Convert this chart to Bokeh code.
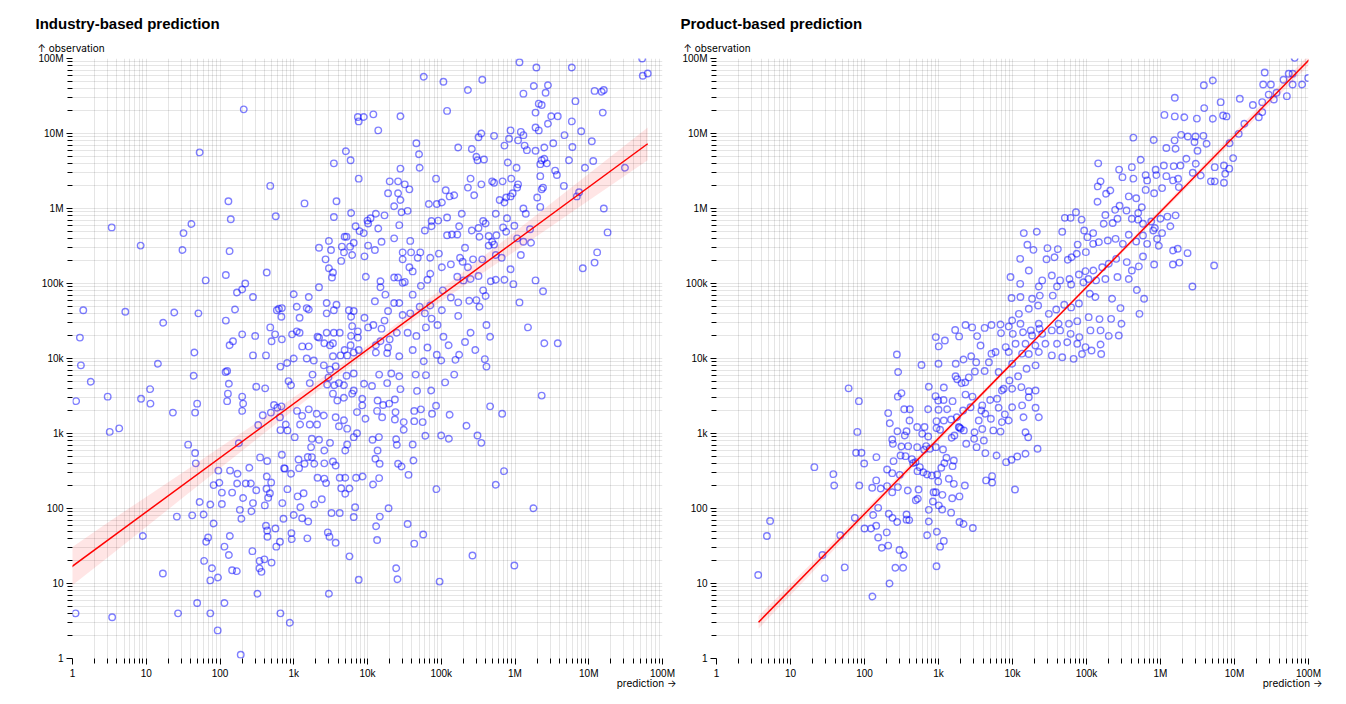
from bokeh.plotting import figure
from bokeh.layouts import row
from bokeh.models import Title, FixedTicker, CustomJSTickFormatter
from bokeh.embed import file_html
from bokeh.resources import INLINE

FONT = "Liberation Sans"
ARROW_FONT = "Inter"

# ---------------- axis ticks ----------------
tick_values = [1, 10, 100, 1e3, 1e4, 1e5, 1e6, 1e7, 1e8]
tick_labels = ["1", "10", "100", "1k", "10k", "100k", "1M", "10M", "100M"]
minor_values = [m * v for v in tick_values[:-1] for m in range(2, 10)]

# ---------------- Industry-based prediction ----------------
ind_pred = [
    210, 53, 7.4e3, 8.9e3, 7.6e3, 5.1e3, 5.9e3, 3.5e3, 7.6e3, 480,
    130, 1.4e3, 3.8e3, 570, 140, 3.5e3, 6e3, 3.4, 41, 32,
    8.4, 31, 135, 6.9e3, 7.8e3, 8.9e3, 1e4, 1.02e4, 3e3, 4.9e3,
    5.2e3, 6.5e3, 4.5e3, 5.8e3, 2.2e3, 3.2e3, 4.8e3, 6.2e3, 9.1e3, 2.7e3,
    4.4e3, 3e3, 3.4e3, 3.3e3, 9.5e3, 2.2e3, 1.02e4, 64, 120, 430,
    220, 200, 170, 280, 1e3, 1.6e3, 1.1e3, 1.5e3, 1.2e3, 1.6e3,
    590, 630, 690, 680, 1.4, 5.2, 24, 51, 17, 1.26,
    160, 120, 200, 300, 150, 135, 45, 280, 420, 480,
    560, 500, 690, 950, 1.1e3, 1.2e3, 1.3e3, 1.6e3, 1e3, 1.5e3,
    2.1e3, 2.2e3, 2.8e3, 3.5e3, 4.2e3, 2.6e3, 3.1e3, 3.4e3, 3.4e3, 5.6e3,
    6.5e3, 6e3, 6.2e3, 7.4e3, 6e3, 7.4e3, 9.1e3, 1.02e4, 2.8e3, 3.8e3,
    3.5e3, 2.8e3, 5.9e3, 4.9e3, 5.3e3, 4.3e3, 6.5e3, 7.6e3, 0.49, 0.875,
    1.15e6, 1.95e6, 5.9e6, 5.3e7, 5.4e7, 6.3e7, 5.8e4, 1.07e5, 3.6e5, 2.3e5,
    1.3e6, 1.8e6, 2.8e6, 2.6e6, 1.2e7, 1.5e7, 1.6e7, 6.6e6, 2.1e6, 2.3e6,
    1.55e7, 1.2e5, 1.9e6, 3.1e6, 3.8e6, 5.9e6, 2.8e6, 2.8e4, 1.2e4, 1.4e4,
    3.2e5, 3.5e5, 5.2e5, 8.3e5, 8.7e5, 1.2e6, 1.3e6, 1.1e6, 1.9e6, 2.1e6,
    4.7e6, 7.9e6, 1.1e7, 3.3e6, 2.5e6, 6e6, 7.2e5, 1.35e6, 1.45e6, 1.9e6,
    1.7e5, 2.6e5, 4.6e4, 5e4, 3e5, 3.1e5, 3.8e5, 5.1e4, 2.8e4, 8e5,
    1.05e6, 2.3e6, 2.2e6, 2.5e6, 2.7e6, 5.4e6, 1.15e7, 8.9e6, 2.2e6, 3.5e6,
    3.7e6, 2.4e6, 2.3e6, 2.2e6, 2e6, 4.6e6, 6.9e6, 7.4e6, 3.1e7, 1.6e7,
    1.8e7, 1.3e7, 1.2e7, 8.3e6, 1.9e6, 2.4e6, 1.15e6, 1.5e6, 2.5e6, 3.8e6,
    8.5e4, 2.5e5, 4.9e5, 5.2e5, 6.8e5, 8.9e5, 1.1e6, 1.07e6, 3.5e5, 2.3e5,
    2.8e5, 2e4, 2.6e4, 3.2e4, 3.7e4, 1.9e4, 2.6e4, 2.8e4, 2.3e4, 2.9e4,
    3.5e4, 2.7e4, 1.1e4, 1.3e4, 1.7e4, 1.4e4, 1.55e4, 2.3e4, 1.26e4, 1.15e5,
    1.3e5, 1.5e5, 1.02e5, 8.7e4, 6.8e4, 1.2e5, 1.9e5, 7.4e4, 9.1e4, 6e4,
    7.4e4, 1.2e5, 1.4e5, 1.65e5, 1.75e5, 2.6e5, 3.2e5, 3.7e5, 4e5, 3.3e5,
    4.4e5, 4.9e5, 4.4e5, 5.2e5, 5.6e5, 6.2e5, 7.2e5, 7.6e5, 8.7e5, 9.3e5,
    1.3e6, 1.4e6, 5.5e5, 7.8e5, 6.9e5, 7.6e5, 9.8e5, 1.07e6, 1.3e6, 1.65e6,
    1.2e6, 1.6e6, 6.6e5, 5.5e5, 3.6e5, 2.7e5, 2.1e5, 1.8e5, 1.95e5, 9.3e4,
    7.1e4, 5.2e4, 4.8e4, 3.9e4, 3.8e4, 3e4, 3e4, 3.7e4, 4.1e4, 2.3e4,
    2.6e4, 3e4, 3.2e4, 1.5e4, 1.5e4, 1.26e4, 1.75e4, 2.3e4, 2.7e4, 4.1e4,
    5.3e4, 6.5e4, 7.1e4, 1.02e5, 1.35e5, 1.65e5, 2e5, 2.5e5, 2.3e5, 3.2e5,
    4.7e5, 3.7e5, 5.5e5, 7.2e5, 9.5e5, 8.7e5, 3e5, 2.4e5, 4e5, 3.3e5,
    1.05e5, 1.35e5, 1.7e5, 1.7e5, 1.02e5, 7.1e4, 6e4, 5.1e4, 3.8e4, 3e4,
    1.9e4, 1.7e4, 1.2e4, 1.55e4, 2e4, 2.5e4, 3.5e4, 4.6e4, 6.2e4, 7.4e4,
    8.9e4, 1.07e5, 6.5e4, 4.1e4, 2.7e4, 8.7e4, 1.26e5, 1.75e5, 2.1e5, 2.5e5,
    2.9e5, 4.1e5, 4.6e5, 3.9e5, 1.3e4, 1.5e4, 1.9e4,
    1.3, 1.77, 1.12, 3, 3.2, 4.3, 14.4, 8.5, 11.3, 11.4,
    23, 44, 49, 46, 119, 125, 132, 128, 125, 200,
    206, 200, 310, 410, 380, 330, 490, 600, 650, 540,
    37, 46, 47, 180, 95, 137, 173, 250, 82, 98,
    146, 106, 171, 224, 262, 310, 206, 53, 74, 106,
    26, 42, 60, 82, 186, 267, 280, 195, 136, 69,
    65, 115, 132, 275, 61, 78, 146, 169, 74, 94,
    345, 343, 400, 500, 365, 9, 16.8, 1.1, 3.45, 27,
    49, 74, 115, 93, 191, 322, 660, 885, 3e3, 7.6e3,
    5.7e3, 3.05e3, 3.7e3, 6.8e3, 6.5e3, 3.25e3, 4.2e3, 2.9e3, 1.53e3, 930,
    650, 580, 940, 436, 440, 420, 565, 725, 1e3, 1.3e3,
    1.57e3, 700, 1.23e3, 1.9e3, 2.4e3, 2.75e3, 2.6e3, 2.1e3, 1.36e3, 1.13e3,
    820, 920, 740, 494, 475, 450, 405, 427, 431, 350,
    436, 690, 757, 1.16e3, 1.18e3, 1.4e3, 1.55e3, 1.9e3, 2.6e3, 3.4e3,
    3.7e3, 4.2e3, 5e3, 7e3, 8.6e3, 5.7e3, 5e3, 4.4e3, 7.2e3, 5e3,
    5.3e3, 6.5e3, 3.1e3, 2.6e3, 1.76e3, 1.76e3, 2.2e3, 1.72e3, 2.07e3, 2.05e3,
    1.65e3, 1.3e3, 1.22e3, 1.03e3, 822, 660, 781, 682, 1.11e3, 1.6e3,
    2.56e3, 3.4e3, 3.9e3, 4.8e3, 6.2e3, 7.2e3, 8.5e3, 9e3, 6.5e3, 5.2e3,
    3.7e3, 3.1e3, 2.56e3, 1.87e3, 815, 660, 850, 920, 1.65e3, 1.8e3,
    2.96e3, 2.84e3, 3.56e3, 4.1e3, 4.8e3, 6.5e3, 8.5e3, 9.4e3, 4.8e3, 3.7e3,
    4.1e3, 5.3e3,
    1.3e4, 1.85e4, 5.8e4, 1e5, 1.56e5, 4.1e5, 1.44e4, 2.1e4, 2.7e4, 4.5e4,
    6.2e4, 1.5e5, 1.13e5, 1.85e4, 2.8e4, 4.7e4, 7.3e4, 1.15e4, 1.37e4, 1.97e4,
    2.35e4, 1.63e4, 1.35e4, 1.58e4, 2.4e4, 2.35e4, 4.3e4, 5.3e4, 7.5e4, 8.5e4,
    1.3e5, 3.1e4, 4.3e4, 5.6e4, 3.1e4, 6.1e4, 1e5, 1.27e5, 2.2e5, 3.1e5,
    3.5e5, 4.6e5, 6.7e5, 2.3e6, 1.17e4, 1.43e4, 2.45e4, 2.5e4, 4.1e4, 1.37e4,
    1.28e4, 1.46e4, 2.6e4, 2.9e4, 4.2e4, 3.6e4, 1.19e4, 1.44e4, 8.6e4, 7.1e5,
    5.5e5, 1.78e6, 1.93e4, 1.47e4, 1.31e4, 1.35e4, 3.5e4, 5.7e4, 4.3e4, 2.65e5,
    9.8e5, 2.45e4, 2.55e4, 9.5e4,
]
ind_obs = [
    2.1e7, 5.6e6, 1.66e7, 1.66e7, 1.45e7, 5.8e6, 4.4e6, 4e6, 2.5e6, 2e6,
    1.25e6, 1.17e6, 1.25e6, 7.9e5, 7.2e5, 7.7e5, 8.7e5, 5.6e5, 6.2e5, 4.7e5,
    3.2e5, 2.8e5, 2.7e5, 5.8e5, 5e5, 4.7e5, 6.9e5, 6.3e5, 3.7e5, 4.2e5,
    4.2e5, 3.5e5, 3.1e5, 3.1e5, 3e5, 2.8e5, 2.6e5, 2.4e5, 2.3e5, 2.1e5,
    2e5, 1.6e5, 1.4e5, 1.2e5, 1.23e5, 8.9e4, 3.2e5, 1.1e5, 1.3e5, 1.4e5,
    1e5, 8.3e4, 7.6e4, 6.6e4, 7.2e4, 6.6e4, 4.9e4, 4.7e4, 3.5e4, 4.5e4,
    4.4e4, 4.6e4, 4.7e4, 3.6e4, 4.4e4, 4.2e4, 4.1e4, 4e4, 3e4, 1.9e4,
    4.5e4, 3.2e4, 2.1e4, 2e4, 1.7e4, 1.5e4, 1.2e4, 1.1e4, 1.1e4, 2.6e4,
    2.1e4, 1.7e4, 1.8e4, 2.1e4, 2.3e4, 2.2e4, 1.45e4, 1.45e4, 1e4, 1e4,
    1.95e4, 1.9e4, 2.2e4, 2.2e4, 2.2e4, 1.6e4, 1.5e4, 1.6e4, 1.07e4, 4.4e4,
    4.3e4, 3.6e4, 2.7e4, 2.3e4, 2e4, 1.9e4, 3.5e4, 2.6e4, 5.5e4, 5.2e4,
    4.4e4, 4e4, 1.5e4, 1.3e4, 1.1e4, 1.1e4, 1.2e4, 1.3e4, 1.19e4, 3.2e3,
    8.9e7, 7.6e7, 7.6e7, 1e8, 5.9e7, 6.3e7, 5.7e7, 4.9e7, 5.2e7, 3.8e7,
    3.4e7, 4.3e7, 4.4e7, 3.5e7, 3.7e7, 3.6e7, 3.8e7, 2.7e7, 2.5e7, 2.4e7,
    1.9e7, 2e7, 1.9e7, 1.7e7, 1.7e7, 1.45e7, 1.35e7, 1.7e7, 1.8e7, 1.1e7,
    8.9e6, 1e7, 9.3e6, 8.5e6, 1.1e7, 1.05e7, 9.5e6, 8.1e6, 1.2e7, 1.1e7,
    9.5e6, 1.07e7, 7.9e6, 7.4e6, 6.5e6, 6.6e6, 6.9e6, 6.9e6, 6e6, 5.9e6,
    6.5e6, 6.2e6, 7.4e6, 5.3e6, 4.9e6, 4.4e6, 4.5e6, 3.5e6, 3.4e6, 4.1e6,
    3.5e6, 4.4e6, 3.9e6, 4.6e6, 4e6, 4.4e6, 4.3e6, 3.5e6, 2.7e6, 3.2e6,
    2.8e6, 1.9e6, 1.8e6, 1.05e6, 1.4e6, 2e6, 1.45e6, 1.65e6, 3.5e6, 1e6,
    4.8e5, 2.6e5, 1.9e5, 1.6e5, 1.1e5, 7.9e4, 5.6e4, 2.6e4, 1.6e4, 1.6e4,
    2.5e6, 2.5e6, 2.3e6, 2.2e6, 2.3e6, 2.5e6, 2.1e6, 1.9e6, 2.1e6, 1.9e6,
    1.5e6, 2.3e6, 2.3e6, 2.1e6, 1.8e6, 1.6e6, 1.6e6, 1.3e6, 1.07e6, 8.9e5,
    9.3e5, 6e5, 7.4e5, 8.5e5, 8.1e5, 5.4e5, 3.6e5, 4e5, 2.8e5, 1.75e6,
    1.45e6, 1.5e6, 1.2e6, 1.15e6, 1.15e6, 7.6e5, 8.5e5, 6.8e5, 6.9e5, 5.1e5,
    5.8e5, 4.4e5, 4.5e5, 4.5e5, 5.8e5, 5.1e5, 5.5e5, 6.8e5, 6.3e5, 4.2e5,
    4.3e5, 3.6e5, 3.2e5, 3.3e5, 4.4e5, 1.3e6, 1.2e6, 1.4e6, 1.45e6, 1.6e6,
    1e6, 8.5e5, 8.5e5, 7.4e5, 5.6e5, 4.9e5, 5.9e5, 4e5, 3.6e5, 3.5e5,
    2.4e5, 5.3e5, 2.2e5, 2.4e5, 2.1e5, 2.1e5, 3e5, 2.2e5, 1.95e5, 2.5e5,
    2.2e5, 2.6e5, 2.2e5, 2.6e5, 3.7e5, 2.6e5, 2.1e5, 1.65e5, 1.45e5, 1.2e5,
    1.2e5, 1.02e5, 1.05e5, 1.07e5, 8.9e4, 5.8e4, 7.1e4, 5.5e4, 5.5e4, 7.1e4,
    9.3e4, 1.12e5, 1.35e5, 1.65e5, 1.8e5, 1.23e5, 1.1e5, 1.15e5, 1.65e5, 1.26e5,
    1.07e5, 8.1e4, 1.12e5, 1.12e5, 9.8e4, 1.55e5, 6e4, 5.9e4, 6.8e4, 4.9e4,
    8.1e4, 6.5e4, 5.6e4, 3.7e4, 4.4e4, 5.1e4, 4e4, 4.9e4, 4e4, 3.8e4,
    4.3e4, 3.2e4, 2.8e4, 2.5e4, 1.8e4, 2.2e4, 2.2e4, 2e4, 2.6e4, 3.4e4,
    2.8e4, 1.95e4, 1.4e4, 1.3e4, 1.07e4, 1.12e4, 1.5e4, 1.12e4, 1.66e4, 2.2e4,
    1.3e4, 2.8e4, 1.95e4, 9.8e3, 1.5e4, 1.7e4, 1.4e4,
    8.1e3, 4.9e3, 2.7e3, 3.1e3, 1.05e3, 1.17e3, 8.5e3, 2.9e3, 3.9e3, 2.5e3,
    1.9e3, 5.9e3, 2.5e3, 1.9e3, 6.6e3, 6.8e3, 4.6e3, 3.4e3, 2.7e3, 3.1e3,
    2.5e3, 2e3, 4.2e3, 4e3, 1.75e3, 1.3e3, 1.9e3, 2.2e3, 1.65e3, 2.4e3,
    710, 550, 400, 740, 320, 320, 290, 350, 205, 220,
    163, 163, 215, 215, 215, 175, 138, 122, 113, 115,
    78, 81, 83, 63, 96, 92, 118, 73, 43, 41,
    36, 31, 24, 27, 20, 16, 15, 14.6, 11, 12,
    20, 16, 21, 19, 14.3, 43, 13.6, 4, 3.55, 4,
    5.5, 4, 5.5, 2.37, 1.12, 7.3, 4, 3, 7.3, 11.2,
    23, 42, 35, 104, 77, 87, 87, 48, 40, 47,
    36, 31, 39, 51, 42, 59, 54, 73, 82, 74,
    67, 118, 104, 113, 133, 218, 250, 257, 160, 145,
    181, 290, 345, 222, 160, 139, 110, 183, 267, 480,
    430, 520, 340, 450, 345, 395, 485, 395, 400, 424,
    375, 257, 257, 257, 267, 185, 157, 186, 1.01e3, 594,
    714, 894, 750, 594, 484, 850, 824, 658, 1.32e3, 1.83e3,
    1.32e3, 1.72e3, 1.32e3, 894, 1.1e3, 1.11e3, 1.32e3, 2.3e3, 2e3, 2.1e3,
    1.74e3, 3.4e3, 2.75e3, 3e3, 3.4e3, 1.93e3, 2.9e3, 4.6e3, 6.3e3, 5.9e3,
    7.9e3, 7.1e3, 8.1e3, 9.4e3, 8.7e3, 7.8e3, 5e3, 4.4e3, 4.7e3, 6.1e3,
    5.6e3, 4.5e3, 4.4e3, 4.7e3, 4.4e3, 3.75e3, 2.37e3, 1.57e3, 1.5e3, 1.65e3,
    1.25e3, 1.16e3,
    1.2e4, 1.18e4, 9.2e3, 9.4e3, 9.6e3, 7.8e3, 6.1e3, 6.3e3, 5.8e3, 6.1e3,
    6e3, 6.1e3, 4.8e3, 4.7e3, 3.9e3, 3.7e3, 3.75e3, 4.3e3, 2.75e3, 2.5e3,
    2.84e3, 2.4e3, 2e3, 1.65e3, 1.93e3, 1.54e3, 2e3, 2.1e3, 1.83e3, 2.34e3,
    1.78e3, 1.42e3, 1.46e3, 1.42e3, 1.12e3, 933, 942, 850, 1.27e3, 940,
    750, 2.3e3, 1.83e3, 3.2e3, 825, 894, 840, 706, 714, 594,
    460, 395, 395, 363, 437, 281, 209, 254, 181, 315,
    207, 101, 101, 78, 58, 38, 62, 45, 34, 23.6,
    17.4, 16, 11.4, 10.6,
]
ind_fit_pred = [0.49, 6.3e7]
ind_fit_obs = [10.2, 7.3e6]
ind_band_pred = [0.49, 3.16, 31.6, 316, 3160, 1.58e4, 1e5, 1e6, 1e7, 6.3e7]
ind_band_lo = [5.5, 23, 140, 845, 5e3, 1.64e4, 5.8e4, 2.7e5, 1.28e6, 4.4e6]
ind_band_hi = [19, 67, 305, 1.4e3, 6.6e3, 2.06e4, 8.4e4, 4.9e5, 2.9e6, 1.2e7]

# ---------------- Product-based prediction ----------------
prod_pred = [
    3.66, 4.8, 5.3, 21, 29, 27, 38, 39, 54, 47,
    61, 84, 80, 77, 91, 99, 85, 74, 100, 123,
    144, 131, 153, 127, 144, 145, 153, 172, 200, 209,
    128, 218, 262, 333, 297, 340, 213, 239, 277, 370,
    402, 370, 940, 703, 951, 1.18e3, 1.05e3, 741, 526, 494,
    741, 1.01e3, 1.12e3, 1.48e3, 1.92e3, 2.18e3, 2.91e3, 857, 920, 1.13e3,
    1.53e3, 1.92e3, 840, 2.27e3, 1.61e3, 1.38e3, 991, 4.4e3, 5.3e3, 5.3e3,
    1.08e4, 385, 537, 237, 202, 166, 283, 300, 237, 202,
    247, 307, 358, 437, 455, 316, 389, 515, 641, 682,
    764, 920, 1.15e3, 1.28e3, 1.61e3, 1.2e3, 1.55e3, 1.09e3, 959, 813,
    703, 621, 520, 560, 489, 209, 220, 344, 410, 725,
    1e3, 1.31e3, 406, 515, 647, 940, 1.18e3, 1.48e3, 1.77e3, 279,
    237, 242, 351, 370, 603, 726, 940, 1.05e3, 1.51e3, 1.64e3,
    2e3, 1.92e3, 274, 285, 589, 1e3, 920, 1.01e3, 1.22e3, 741,
    282, 316, 912, 991, 1.17e3, 1.55e3, 1.18e3, 2.05e3, 1.71e3, 2.18e3,
    1.68e3, 1.9e3, 2.32e3, 2.85e3, 3.33e3, 3.7e3, 4.2e3, 5.2e3, 6.9e3, 8.9e3,
    2.77e3, 3.23e3, 4.8e3, 5.2e3, 5.9e3, 7e3, 8.1e3, 6.5e3, 4.2e3, 3.1e3,
    2.57e3, 2.3e3, 1.7e3, 1.79e3, 2.32e3, 2.88e3, 2.71e3, 2.15e3, 3.8e3, 4.3e3,
    5.1e3, 3.5e3, 3.9e3, 3.07e3, 2.2e3, 1.88e3, 2.37e3, 3.03e3, 3.27e3, 4.3e3,
    6.1e3, 4.1e3, 5.5e3, 6.9e3, 7.2e3, 8.9e3, 7.9e3, 6.5e3, 9.9e3, 7.2e3,
    9.9e3, 1.32e4, 1.66e4, 2.05e4, 1.66e4, 1.35e4, 1.41e4, 2.05e4, 2.27e4, 1.5e4,
    1.63e4, 2.18e4, 1.5e4, 1.16e4, 9.7e3, 8.2e3, 1.55e4, 2.05e4, 1.35e4,
    1.77e4, 2.32e4, 9.9e3, 1.19e4, 9.1e3, 7.6e3, 6.2e3, 5e3, 3.9e3,
    6.5e7, 2.56e7, 5.4e7, 6.1e7, 4.6e7, 9.9e7, 2.44e7, 3.1e7, 6.1e7, 8.2e7,
    5.1e7, 3.7e7, 2.9e7, 3.4e7, 2.37e7, 1.77e7, 1.18e7, 2.37e7, 2.13e7, 1.36e7,
    1.14e7, 8.6e6, 9.6e6, 3.85e6, 5.1e6, 6.5e6, 1.56e6, 3.9e6, 1.13e6, 1.56e6,
    2.1e6, 3.1e6, 5.1e6, 7e6, 7.8e6, 4.3e5, 8.1e5, 1.2e6, 1.6e6, 1.55e6,
    1.9e6, 2.34e6, 2.97e6, 3.8e6, 4.2e6, 2.88e6, 3.16e6, 2.24e6, 3e6, 3.5e6,
    4.8e6, 5.4e6, 7.2e6, 7.5e6, 5.4e6, 7.2e6, 8.5e6, 2.73e6, 1.86e6, 1.51e6,
    1.11e6, 8.6e5, 6.3e5, 4.3e5, 5.4e5, 4.1e5, 2.76e5, 3.06e5, 1.44e5, 1.55e5,
    1.42e5, 1.84e5, 2.1e5, 1.41e5, 6.6e5, 8.8e5, 1.2e6, 1.48e6, 1.73e6, 1.77e6,
    1.05e6, 8.2e5, 6.3e5, 4.7e5, 3.73e5, 5.6e5, 5e5, 4.1e5, 2.8e5, 2.44e5,
    3.47e5, 5.8e5, 7.5e5, 8.4e5, 1e6, 1.24e6, 1.6e6, 1.36e6, 1.05e6, 8e5,
    5e5, 2.62e5, 2.26e5, 1.71e5, 1.8e5, 1.23e5, 7.2e4, 6.1e4, 5.1e4, 8.6e4,
    9.3e4, 1.03e5, 7.6e4, 4.7e4, 2.13e4, 1.42e4, 1.27e4, 1.59e4, 1.92e4, 2.97e4,
    4.1e4, 3.7e4, 2.88e4, 5.6e4, 6.3e4, 7.4e4, 9.8e4, 1.23e5, 1.47e5, 1.94e5,
    2.47e5, 3.1e5, 3.73e5, 4.7e5, 5.8e5, 6.6e5, 9e5, 9.5e5, 1.48e6, 1.71e6,
    2.32e6, 5.3e6, 2.7e6, 1.47e6, 1.8e6, 8.2e5, 5.8e5, 5.1e5, 4.1e5, 3.5e5,
    2.52e5, 2e5, 1.63e5, 1.24e5, 9.7e4, 7.9e4, 5.9e4, 4.4e4, 3.4e4, 2.52e4,
    2.27e4, 1.66e4, 1.27e4, 9.4e3, 9.7e3, 1.28e4, 1.84e4, 2.34e4, 3.5e4, 4e4,
    6.2e4, 9.1e4, 1.06e5, 1.35e5, 1.8e5, 2.62e5, 3.73e5, 4.8e5, 6e5, 5.2e5,
    2.88e5, 2.22e5, 1.32e5, 1.11e5, 7.9e4, 6.2e4, 5e4, 3.9e4, 3.1e4, 2.22e4,
    1.66e4, 1.22e4, 9.9e3, 1.28e4, 2.27e4, 4.2e4, 5.8e4, 7.5e4, 1.07e5, 1.5e5,
    2.15e5, 2.97e5, 2.73e5, 2e5, 1.55e5, 1.13e5, 8e4, 6.1e4, 4.4e4, 3.4e4,
    2.52e4, 1.84e4, 1.39e4, 1.01e4, 1.1e4, 1.5e4, 2.04e4, 2.79e4, 4e4, 5.5e4,
    7.5e4, 9.7e4, 1.55e5, 1.17e5, 1.58e5, 8.7e4, 6.7e4, 4.7e4, 3.4e4, 2.27e4,
    1.66e4, 8.9e3,
]
prod_obs = [
    13, 43, 68, 356, 11.8, 24, 287, 203, 16.4, 44,
    4e3, 2.7e3, 1.05e3, 553, 553, 398, 203, 75, 54, 54,
    59, 82, 102, 189, 237, 484, 41, 30, 48, 32,
    6.7, 10, 16.2, 16.2, 28, 24, 85, 75, 66, 71,
    70, 83, 17, 44, 49, 37, 31, 67, 135, 129,
    96, 110, 97, 88, 66, 62, 55, 165, 165, 152,
    137, 145, 124, 203, 213, 249, 229, 237, 270, 222,
    179, 174, 179, 165, 199, 185, 193, 281, 296, 331,
    428, 509, 499, 455, 403, 671, 678, 658, 607, 678,
    625, 658, 612, 474, 437, 403, 367, 349, 284, 275,
    284, 305, 315, 356, 415, 1.87e3, 1.37e3, 2.11e3, 2.11e3, 2.11e3,
    2.07e3, 2.11e3, 1.49e3, 1.22e3, 1.22e3, 1.46e3, 1.49e3, 1.54e3, 1.65e3, 1.07e3,
    832, 728, 942, 1.07e3, 991, 912, 1.18e3, 1.12e3, 877, 942,
    1.16e3, 1.2e3, 1.13e4, 6.6e3, 8.2e3, 8.5e3, 1.93e4, 1.45e4, 1.74e4, 4.2e3,
    3.1e3, 3.45e3, 3.15e3, 2.75e3, 2.8e3, 2.7e3, 4.1e3, 4.7e3, 8.5e3, 9.7e3,
    2.4e4, 1.97e4, 2.8e4, 2.6e4, 1.99e4, 1.49e4, 2.56e4, 2.8e4, 2.84e4, 2.67e4,
    1.07e4, 8.9e3, 8.9e3, 1.16e4, 1.22e4, 2.18e4, 1.42e4, 6.6e3, 6.8e3, 6.7e3,
    5.6e3, 4.8e3, 5.8e3, 5.3e3, 3.3e3, 3.1e3, 2.24e3, 2.03e3, 2.03e3, 1.83e3,
    1.57e3, 1.49e3, 1.15e3, 1.04e3, 1.1e3, 1.22e3, 730, 849, 658, 547,
    509, 807, 1.1e3, 1.06e3, 1.42e3, 1.49e3, 1.8e3, 2.2e3, 2.24e3, 3.75e3,
    3.95e3, 4.15e3, 3.67e3, 3.75e3, 3.05e3, 2.37e3, 1.65e3, 2.2e3, 1.65e3, 1.04e3,
    893, 625, 536, 494, 446, 415, 7.3e3, 8.1e3, 1.16e4,
    2.37e4, 2.49e4, 8.5e3, 5.8e3, 5.1e3, 3.95e3, 2.9e3, 2.8e3, 2.37e3,
    1.02e8, 6.5e7, 6.25e7, 6.25e7, 5.2e7, 5.5e7, 4.5e7, 4.5e7, 4.5e7, 4.5e7,
    3.15e7, 3.5e7, 3.3e7, 2.84e7, 2.62e7, 2.4e7, 2.9e7, 1.93e7, 1.65e7, 1.35e7,
    9.9e6, 7.4e6, 4.7e6, 4.4e7, 5.1e7, 2.62e7, 3e7, 2.18e7, 1.77e7, 1.69e7,
    1.65e7, 1.58e7, 1.57e7, 1.74e7, 1.69e7, 8.8e6, 8.2e6, 6.4e6, 6.25e6, 8.1e6,
    9.6e6, 9.1e6, 9.1e6, 9.3e6, 7.3e6, 7.7e6, 5.9e6, 4.6e6, 3.95e6, 2.75e6,
    2.3e6, 2.3e6, 2.2e6, 2.9e6, 3.56e6, 3.75e6, 3.4e6, 3e6, 3.75e6, 3.67e6,
    3.75e6, 3.28e6, 2.79e6, 2.5e6, 4.46e6, 3.56e6, 3.3e6, 2.62e6, 4e6, 2.3e6,
    1.97e6, 1.57e6, 1.74e6, 1.23e6, 2.37e6, 2.79e6, 2.7e6, 2.37e6, 2.49e6, 1.93e6,
    1.87e6, 1.6e6, 1.77e6, 1.37e6, 1.45e6, 1.04e6, 8.7e5, 7.3e5, 1.09e6, 9.6e5,
    9.4e5, 6.25e5, 6.7e5, 5.5e5, 7.3e5, 7.8e5, 8.1e5, 5.8e5, 4.7e5, 5.1e5,
    7.1e5, 7.3e5, 6.4e5, 6.25e5, 8.2e5, 4.7e5, 8.9e5, 7.5e5, 7.5e5, 7.1e5,
    5.1e5, 4.15e5, 3.3e5, 4.9e5, 4.9e5, 4.7e5, 2.13e5, 3.28e5, 2.81e5, 2.96e5,
    2.87e5, 2.24e5, 2.11e5, 2.07e5, 2.24e5, 2.49e5, 2.62e5, 3.38e5, 3.56e5, 3.75e5,
    3.94e5, 3.38e5, 4.46e5, 3.63e5, 4.37e5, 3.38e5, 3.94e5, 3.18e5, 2.76e5, 2.9e5,
    2.54e5, 1.74e5, 9.1e4, 1.79e5, 1.9e5, 1.79e5, 2.29e5, 1.69e5, 1.49e5, 1.93e5,
    2.13e5, 1.83e5, 1.65e5, 1.49e5, 1.46e5, 1.32e5, 1.15e5, 1.1e5, 1.28e5, 1.1e5,
    9.1e4, 1.49e5, 9.9e4, 1.22e5, 6.4e4, 6.6e4, 6.25e4, 6.9e4, 6.9e4, 9.1e4,
    9.7e4, 1.04e5, 1.15e5, 1.1e5, 1.15e5, 1.22e5, 1.15e5, 8.2e4, 6.25e4, 3.94e4,
    4.7e4, 6.25e4, 6.6e4, 7.3e4, 5.4e4, 4.8e4, 5.2e4, 4.5e4, 3.94e4, 5.1e4,
    4.6e4, 3.94e4, 3.21e4, 2.9e4, 2.9e4, 2.9e4, 2.9e4, 3.15e4, 3.56e4, 3.35e4,
    3.38e4, 2.9e4, 2.03e4, 2e4, 2.37e4, 2.37e4, 1.93e4, 2.13e4, 2.37e4, 2.37e4,
    2.13e4, 2.03e4, 2.24e4, 2.13e4, 1.57e4, 1.57e4, 1.49e4, 1.57e4, 1.57e4, 1.65e4,
    1.57e4, 1.42e4, 1.54e4, 1.28e4, 1.15e4, 1.15e4, 9.9e3, 1.04e4, 1.1e4, 1.22e4,
    1.15e4, 1.22e4,
]
prod_fit_pred = [3.7, 1.02e8]
prod_fit_obs = [3.05, 9.6e7]
prod_band_pred = [3.7, 100, 3.16e4, 3.16e6, 1.02e8]
prod_band_lo = [2.5, 75, 2.67e4, 2.64e6, 8.2e7]
prod_band_hi = [3.7, 95, 2.92e4, 3.18e6, 1.13e8]


def make_panel(title, pred, obs, fit_x, fit_y, band_x, band_lo, band_hi,
               width, border_left, border_right, title_off, ylab_off):
    p = figure(width=width, height=694, x_axis_type="log", y_axis_type="log",
               x_range=(1, 1e8), y_range=(1, 1e8), title=None,
               output_backend="svg", toolbar_location=None,
               min_border_left=border_left, min_border_right=border_right,
               min_border_top=58, min_border_bottom=36)
    p.outline_line_color = None
    p.background_fill_color = "white"
    p.border_fill_color = "white"

    for ax in (p.xaxis[0], p.yaxis[0]):
        ax.ticker = FixedTicker(ticks=tick_values, minor_ticks=minor_values)
        ax.formatter = CustomJSTickFormatter(
            args=dict(labels=tick_labels),
            code="return labels[Math.round(Math.log10(tick))];")
        ax.axis_line_color = None
        ax.major_tick_line_color = "black"
        ax.minor_tick_line_color = "black"
        ax.major_tick_in = 0
        ax.major_tick_out = 6
        ax.minor_tick_in = 0
        ax.minor_tick_out = 5
        ax.major_label_standoff = 3
        ax.major_label_text_font = FONT
        ax.major_label_text_font_size = "10px"
        ax.major_label_text_color = "black"

    for g in (p.xgrid[0], p.ygrid[0]):
        g.ticker = FixedTicker(ticks=tick_values, minor_ticks=minor_values)
        g.grid_line_color = "black"
        g.grid_line_alpha = 0.1
        g.minor_grid_line_color = "black"
        g.minor_grid_line_alpha = 0.1

    p.scatter(pred, obs, marker="circle", size=6.5, fill_color=None,
              line_color="blue", line_alpha=0.5, line_width=1.4)
    p.varea(x=band_x, y1=band_lo, y2=band_hi, fill_color="red", fill_alpha=0.1)
    p.line(fit_x, fit_y, line_color="red", line_width=1.5)

    # texts around the frame: closest to the frame first
    p.add_layout(Title(text="\u2191 observation", align="left", offset=ylab_off,
                       text_font=ARROW_FONT, text_font_size="10px",
                       text_font_style="normal", standoff=10,
                       text_color="black"), "above")
    p.add_layout(Title(text=title, align="left", offset=title_off,
                       text_font=FONT, text_font_size="15px",
                       text_font_style="bold", standoff=5,
                       text_color="black"), "above")
    p.add_layout(Title(text="prediction \u2192", align="right", offset=-14,
                       text_font=ARROW_FONT, text_font_size="10px",
                       text_font_style="normal", standoff=-15,
                       text_color="black"), "below")
    return p


p1 = make_panel("Industry-based prediction", ind_pred, ind_obs,
                ind_fit_pred, ind_fit_obs, ind_band_pred, ind_band_lo, ind_band_hi,
                width=678, border_left=72, border_right=16,
                title_off=-37, ylab_off=-35)
p2 = make_panel("Product-based prediction", prod_pred, prod_obs,
                prod_fit_pred, prod_fit_obs, prod_band_pred, prod_band_lo, prod_band_hi,
                width=650, border_left=38, border_right=20,
                title_off=-36, ylab_off=-33)

layout = row(p1, p2)
open("out.html", "w").write(file_html(layout, INLINE))
